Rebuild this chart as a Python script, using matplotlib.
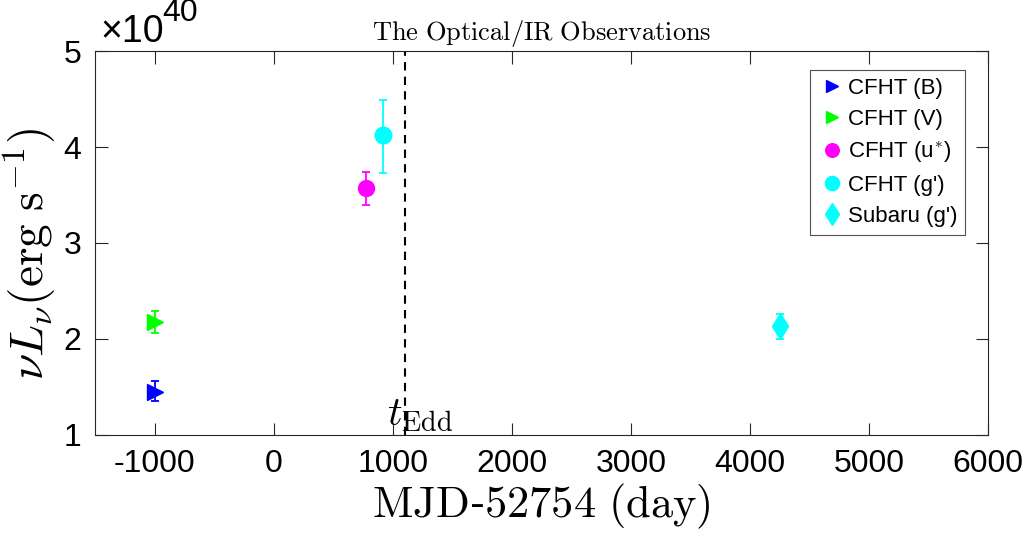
import matplotlib
matplotlib.use("Agg")
import matplotlib.pyplot as plt
from matplotlib.lines import Line2D

plt.rcParams['font.family'] = ['Liberation Sans', 'DejaVu Sans']
plt.rcParams['mathtext.fontset'] = 'cm'
plt.rcParams['axes.unicode_minus'] = False

# luminosities in units of 1e40 erg/s
labels = ["CFHT (B)", "CFHT (V)", "CFHT (u$^{*}$)", "CFHT (g')", "Subaru (g')"]
days = [-1000, -1000, 775, 920, 4250]
lum = [1.45, 2.18, 3.57, 4.12, 2.14]
err_lo = [0.10, 0.12, 0.17, 0.39, 0.14]
err_hi = [0.11, 0.11, 0.17, 0.37, 0.12]
colors = ["#0000ff", "#00ff00", "#ff00ff", "#00ffff", "#00ffff"]
markers = [">", ">", "o", "o", "d"]
msizes = [11, 11, 11.5, 12, 13]
t_edd = 1100

fig = plt.figure(figsize=(10.33, 5.37), dpi=100)
ax = fig.add_axes([0.092, 0.19, 0.8645, 0.715])

handles = []
for i in range(len(labels)):
    ax.errorbar(days[i], lum[i], yerr=[[err_lo[i]], [err_hi[i]]], fmt=markers[i],
                color=colors[i], ms=msizes[i], capsize=3, elinewidth=1.3,
                capthick=1.3)
    handles.append(Line2D([], [], ls='none', marker=markers[i], color=colors[i],
                          ms=msizes[i] * 0.85, label=labels[i]))

ax.axvline(t_edd, color='k', ls='--', lw=1.5, dashes=(4, 3))
ax.text(955, 1.1, r'$t_{\mathrm{Edd}}$', fontsize=29, ha='left', va='baseline')

ax.set_xlim(-1500, 6000)
ax.set_ylim(1, 5)
ax.set_xticks(range(-1000, 6001, 1000))
ax.set_yticks([1, 2, 3, 4, 5])
ax.tick_params(direction='in', length=9, width=0.8, labelsize=23, top=True, right=True,
               color='#262626', pad=10)
for s in ax.spines.values():
    s.set_color('#262626')
    s.set_linewidth(0.8)

ax.set_xlabel(r'$\mathrm{MJD}$-$\mathrm{52754\ (day)}$', fontsize=32, labelpad=2)
ax.set_ylabel(r'$\nu L_\nu (\mathrm{erg\ s^{-1}})$', fontsize=34)
ax.yaxis.set_label_coords(-0.04, 0.47)
ax.set_title(r'$\mathrm{The\ Optical/IR\ Observations}$', fontsize=19, pad=8)

# exponent label as drawn by the original
fig.text(100 / 1033, 1 - 42 / 537, '×10', fontsize=27, ha='left', va='baseline')
fig.text(162 / 1033, 1 - 21 / 537, '40', fontsize=23, ha='left', va='baseline')

leg = ax.legend(handles=handles, loc='upper right', bbox_to_anchor=(0.974, 0.951),
                borderaxespad=0, fontsize=16, fancybox=False, edgecolor='#262626',
                handletextpad=0.05, handlelength=1.3, labelspacing=0.45, borderpad=0.35)
leg.get_frame().set_linewidth(0.8)

fig.savefig("out.png", dpi=100)
